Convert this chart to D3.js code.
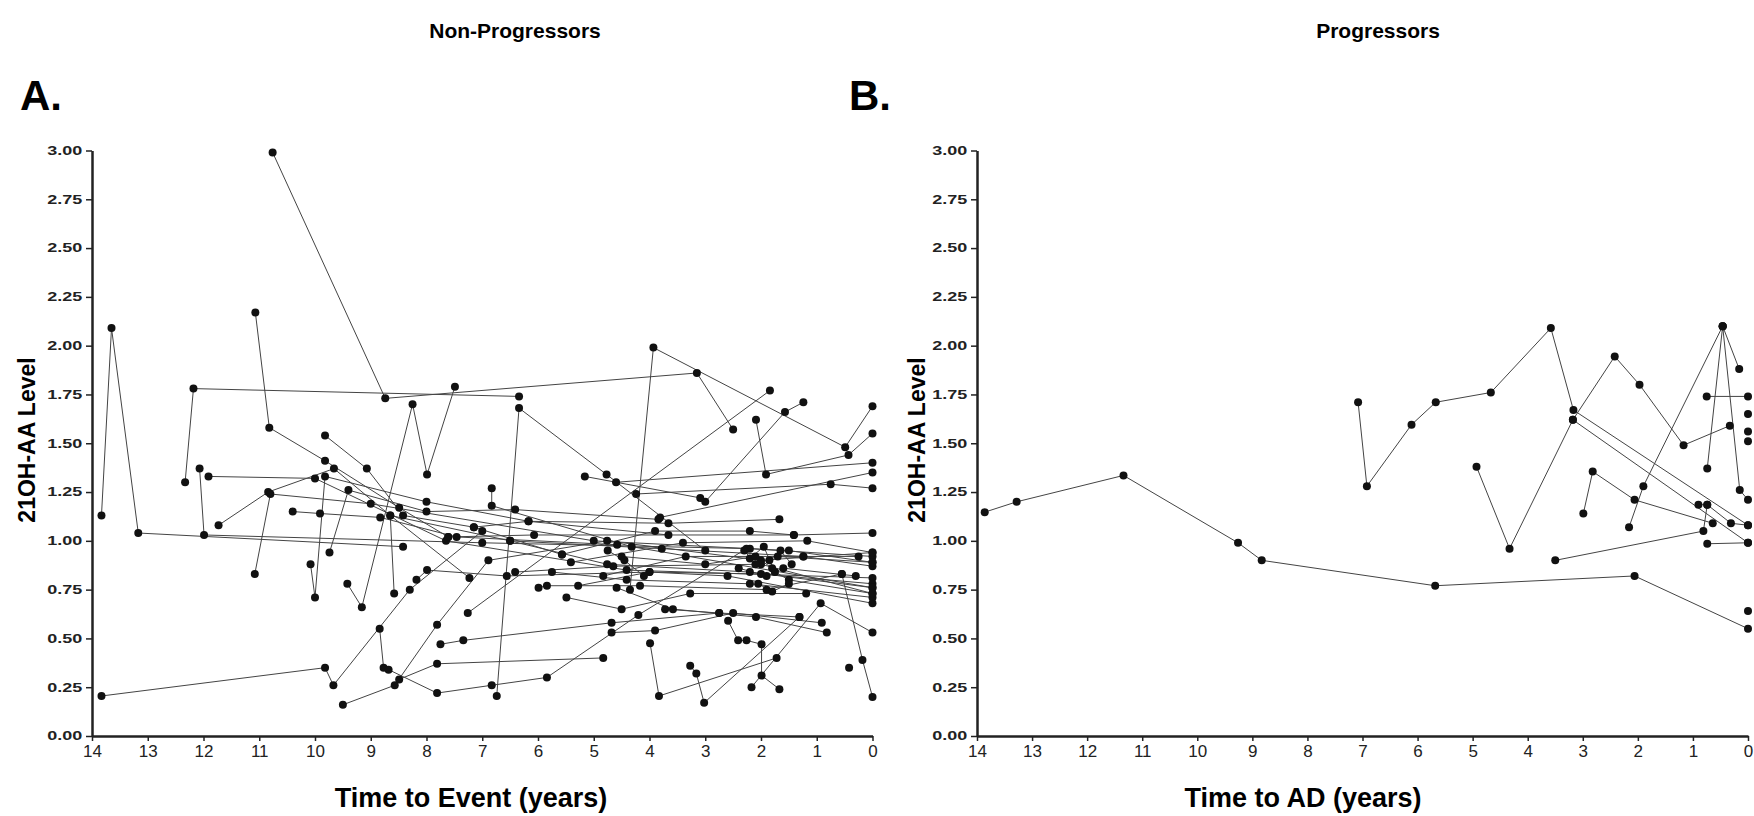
<!DOCTYPE html>
<html lang="en">
<head>
<meta charset="UTF-8">
<title>21OH-AA Level - Non-Progressors vs Progressors</title>
<script src="https://d3js.org/d3.v7.min.js"></script>
<style>
  body { margin: 0; background: #fff; overflow: hidden; font-family: 'Liberation Sans', Arial, sans-serif; }
  .tick text { fill: #222; }
  .domain { stroke: #222; stroke-width: 2.5; }
  .tick line { stroke: #222; stroke-width: 1.5; }
</style>
</head>
<body>
<div id="chart"></div>
<script>
  // tick labels
  const yTicks = [0, 0.25, 0.5, 0.75, 1, 1.25, 1.5, 1.75, 2, 2.25, 2.5, 2.75, 3];
  const xTicks = [14, 13, 12, 11, 10, 9, 8, 7, 6, 5, 4, 3, 2, 1, 0];

  // Non-Progressors: each subject = list of [years to event, level]
  const nonProgressors = [
    [[13.83,1.13],[13.65,2.09],[13.17,1.04],[8.42,0.97]],
    [[10.76,2.99],[8.74,1.73],[3.15,1.86],[2.50,1.57]],
    [[12.33,1.30],[12.18,1.78],[6.34,1.74]],
    [[11.07,2.17],[10.82,1.58],[9.82,1.41],[8.49,1.17],[7.61,1.02]],
    [[12.07,1.37],[11.99,1.03],[7.0,0.99],[2.2,0.96],[0,0.92]],
    [[11.91,1.33],[10.0,1.32],[7.65,1.00],[4.41,0.85],[0,0.81]],
    [[11.73,1.08],[10.84,1.25],[9.66,1.37],[8.65,1.13],[7.23,0.81]],
    [[11.08,0.83],[10.80,1.24],[9.0,1.19],[5.0,1.0],[1.5,0.95],[0,0.89]],
    [[10.40,1.15],[9.91,1.14],[8.83,1.12],[7.46,1.02],[4.58,0.98]],
    [[10.08,0.88],[10.0,0.71],[9.82,1.33],[8.0,1.2],[6.17,1.10],[3.66,1.03]],
    [[9.82,1.54],[9.07,1.37],[8.42,1.13],[7.15,1.07],[5.57,0.93]],
    [[9.74,0.94],[9.40,1.26],[8.0,1.15],[6.41,1.16],[3.84,1.11]],
    [[9.42,0.78],[9.16,0.66],[8.25,1.70],[7.99,1.34],[7.49,1.79]],
    [[9.50,0.16],[8.57,0.26],[7.81,0.57],[6.89,0.90],[4.76,1.00],[2.0,0.90],[0,0.94]],
    [[8.84,0.55],[8.77,0.35],[8.68,0.34],[7.81,0.22],[6.83,0.26],[5.84,0.30],[4.2,0.62],[2.26,0.96]],
    [[13.83,0.205],[9.82,0.35],[9.67,0.26],[8.3,0.75],[7.0,1.05]],
    [[8.49,0.29],[7.81,0.37],[4.83,0.40]],
    [[8.58,0.73],[8.65,1.13],[6.5,1.0],[3.78,0.96],[1.24,0.92],[0,0.87]],
    [[8.18,0.80],[7.99,0.85],[6.56,0.82],[4.0,0.84],[2.0,0.83],[0,0.78]],
    [[7.75,0.47],[7.34,0.49],[4.68,0.58],[2.75,0.63],[1.31,0.61]],
    [[6.74,0.205],[6.34,1.68],[4.77,1.34],[3.0,0.95]],
    [[4.35,0.75],[3.93,1.99],[0.49,1.48],[0,1.69]],
    [[2.09,1.62],[1.91,1.34],[0.43,1.44],[0,1.55]],
    [[3.0,1.2],[1.57,1.66],[1.24,1.71]],
    [[7.26,0.63],[1.84,1.77]],
    [[3.81,1.12],[0,1.35]],
    [[5.16,1.33],[3.09,1.22]],
    [[4.24,1.24],[0.75,1.29],[0,1.27]],
    [[4.6,1.3],[0,1.40]],
    [[6.83,1.27],[6.83,1.18],[4.32,0.97],[0,0.76]],
    [[7.15,1.07],[6.17,1.10],[3.66,1.09],[1.67,1.11]],
    [[7.61,1.02],[6.07,1.03],[1.41,1.03],[0,1.04]],
    [[6.41,0.84],[4.65,0.87],[2.0,0.88],[0,0.73]],
    [[5.75,0.84],[4.41,0.80],[2.2,0.78],[0,0.71]],
    [[5.99,0.76],[5.84,0.77],[4.17,0.77],[1.9,0.75],[0.55,0.83]],
    [[5.49,0.71],[4.50,0.65],[3.27,0.73],[1.19,0.73]],
    [[5.28,0.77],[4.0,0.84],[2.6,0.82],[0,0.68]],
    [[4.68,0.53],[3.90,0.54],[2.50,0.63],[0.91,0.58]],
    [[3.99,0.475],[3.83,0.205],[1.72,0.40]],
    [[3.27,0.36],[3.16,0.32],[3.02,0.17],[1.31,0.61]],
    [[2.59,0.59],[2.41,0.49],[2.26,0.49],[1.99,0.47],[1.99,0.31],[1.67,0.24]],
    [[0.55,0.83],[0.18,0.39],[0,0.20]],
    [[0.42,0.35]],
    [[2.17,0.25],[0.93,0.68],[0,0.53]],
    [[4.83,0.82],[3.35,0.92],[1.24,0.92],[0.25,0.92]],
    [[5.41,0.89],[3.40,0.99],[1.17,1.00],[0,0.94]],
    [[6.50,1.00],[4.76,0.88],[2.2,0.84],[0,0.76]],
    [[4.59,0.76],[3.58,0.65],[2.09,0.61],[0.82,0.53]],
    [[3.72,0.65],[2.75,0.63]],
    [[5.57,0.93],[3.9,1.05],[2.2,1.05],[1.41,1.03]],
    [[2.3,0.95],[2.1,0.88],[1.7,0.92],[0,0.89]],
    [[2.4,0.86],[1.9,0.82],[1.6,0.86],[0.3,0.82]],
    [[2.2,0.91],[1.95,0.97],[1.75,0.84],[1.5,0.80],[0,0.73]],
    [[1.85,0.90],[1.65,0.95],[1.45,0.88]],
    [[2.05,0.78],[1.8,0.74],[1.5,0.78]],
    [[4.5,0.92],[3.0,0.88],[2.1,0.92],[1.8,0.86]],
    [[4.75,0.95],[4.45,0.90],[4.1,0.82]]
  ];

  // Progressors: each subject = list of [years to AD, level]
  const progressors = [
    [[13.86,1.147],[13.28,1.20],[11.34,1.335],[9.26,0.99],[8.83,0.90],[5.68,0.77],[2.06,0.82],[0,0.55]],
    [[7.08,1.71],[6.92,1.28],[6.11,1.595],[5.67,1.71],[4.67,1.76],[3.58,2.09],[3.17,1.67],[0,1.08]],
    [[4.93,1.38],[4.33,0.96],[3.18,1.62],[2.42,1.945],[1.97,1.80],[1.17,1.49],[0.33,1.59]],
    [[2.16,1.07],[1.90,1.28],[0.46,2.10],[0.74,1.37]],
    [[0.46,2.10],[0.15,1.26],[0,1.21]],
    [[0.46,2.10],[0.16,1.88]],
    [[0.75,1.74],[0,1.74]],
    [[2.99,1.14],[2.82,1.355],[2.06,1.21],[0.64,1.09]],
    [[0.90,1.185],[0.74,1.185],[0.31,1.09],[0,1.08]],
    [[3.50,0.90],[0.81,1.05],[0.74,1.185]],
    [[0.74,0.985],[0,0.99]],
    [[3.18,1.62],[0,0.99]],
    [[0,1.65]],
    [[0,1.56]],
    [[0,1.51]],
    [[0,0.64]]
  ];

  const width = 1754, height = 816;

  const svg = d3.select("#chart").append("svg")
      .attr("width", width)
      .attr("height", height);

  const y = d3.scaleLinear().domain([0, 3]).range([736, 150.5]);

  function drawPanel(data, left, right, title, titleX, letter, letterX, xLabel, xLabelX, yLabelX) {
    const x = d3.scaleLinear().domain([14, 0]).range([left, right]);
    const g = svg.append("g");

    const line = d3.line().x(d => x(d[0])).y(d => y(d[1]));

    g.append("g").selectAll("path")
      .data(data)
      .enter().append("path")
      .attr("d", line)
      .attr("fill", "none")
      .attr("stroke", "#444")
      .attr("stroke-width", 1);

    g.append("g").selectAll("circle")
      .data(data.flat())
      .enter().append("circle")
      .attr("cx", d => x(d[0]))
      .attr("cy", d => y(d[1]))
      .attr("r", 4)
      .attr("fill", "#111");

    // y axis, labels stretched sideways like the source
    const yAxis = g.append("g")
      .attr("transform", `translate(${left},0)`)
      .call(d3.axisLeft(y).tickValues(yTicks).tickFormat(d3.format(".2f")).tickSize(6).tickSizeOuter(0));
    yAxis.selectAll(".tick text")
      .attr("x", -6.5)
      .attr("transform", "scale(1.5,1)")
      .style("font-size", "12px")
      .style("font-weight", "bold");

    const xAxis = g.append("g")
      .attr("transform", "translate(0,736)")
      .call(d3.axisBottom(x).tickValues(xTicks).tickFormat(d3.format("d")).tickSize(5).tickSizeOuter(0));
    xAxis.selectAll(".tick text")
      .attr("y", 9)
      .style("font-size", "17px");

    g.append("text")
      .attr("x", titleX).attr("y", 38)
      .attr("text-anchor", "middle")
      .style("font-size", "21px").style("font-weight", "bold")
      .text(title);

    g.append("text")
      .attr("x", letterX).attr("y", 110)
      .style("font-size", "42px").style("font-weight", "bold")
      .text(letter);

    g.append("text")
      .attr("x", xLabelX).attr("y", 807)
      .attr("text-anchor", "middle")
      .style("font-size", "27px").style("font-weight", "bold")
      .text(xLabel);

    g.append("text")
      .attr("transform", `translate(${yLabelX},440) rotate(-90)`)
      .attr("text-anchor", "middle")
      .style("font-size", "23px").style("font-weight", "bold")
      .text("21OH-AA Level");
  }

  drawPanel(nonProgressors, 92, 872.5, "Non-Progressors", 515, "A.", 20, "Time to Event (years)", 471, 35);
  drawPanel(progressors, 977, 1748, "Progressors", 1378, "B.", 849, "Time to AD (years)", 1303, 925);
</script>
</body>
</html>
